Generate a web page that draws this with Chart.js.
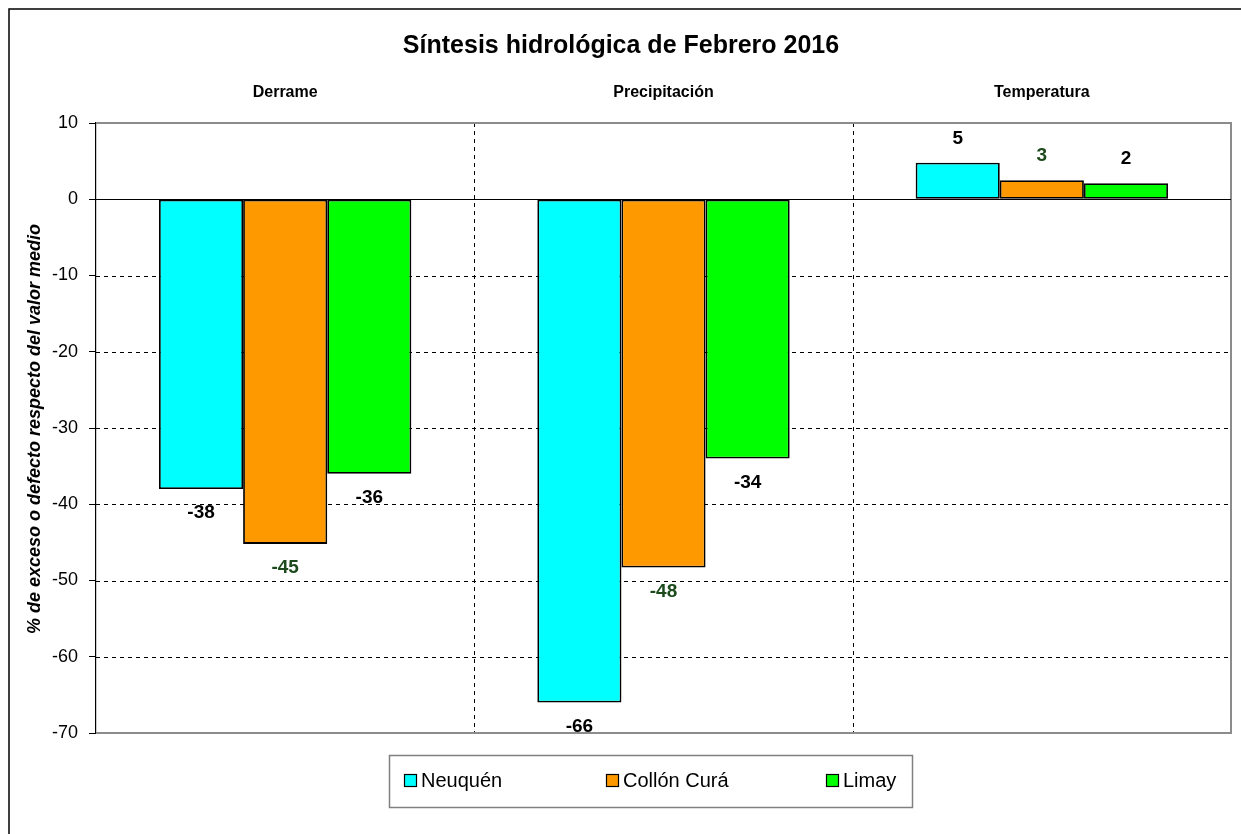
<!DOCTYPE html>
<html>
<head>
<meta charset="utf-8">
<script src="https://cdn.jsdelivr.net/npm/chart.js@4/dist/chart.umd.min.js"></script>
<style>
  html, body { margin: 0; padding: 0; background: #fff; }
  #wrap { width: 1241px; height: 834px; }
</style>
</head>
<body>
<div id="wrap"><canvas id="hydroChart" width="1241" height="834"></canvas></div>
<script>
// Data
var categories = ["Derrame", "Precipitación", "Temperatura"];
var seriesNames = ["Neuquén", "Collón Curá", "Limay"];
var neuquen = [-38, -66, 4.8];
var collonCura = [-45.2, -48.3, 2.5];
var limay = [-36, -34, 2.1];
var yTicks = [10, 0, -10, -20, -30, -40, -50, -60, -70];

var seriesColors = ["#00FFFF", "#FF9900", "#00FF00"];
var labelColors = ["#000000", "#1C4A1C", "#000000"];

var titleText = "Síntesis hidrológica de Febrero 2016";
var yTitleText = "% de exceso o defecto respecto del valor medio";

// Draws the frame, dashed grid, value labels, title and boxed legend
var decorPlugin = {
    id: 'decor',
    beforeDraw: function (chart) {
        var c = chart.ctx;
        c.save();
        c.fillStyle = '#fff';
        c.fillRect(0, 0, chart.width, chart.height);
        c.strokeStyle = '#000';
        c.lineWidth = 1.5;
        c.beginPath();
        c.moveTo(9, chart.height);
        c.lineTo(9, 9);
        c.lineTo(chart.width, 9);
        c.stroke();
        c.restore();
    },
    beforeDatasetsDraw: function (chart) {
        var c = chart.ctx, a = chart.chartArea;
        var x = chart.scales.x, y = chart.scales.y;
        c.save();
        c.strokeStyle = '#000';
        c.lineWidth = 1;
        c.setLineDash([4, 4]);
        yTicks.forEach(function (v) {
            if (v === 0 || v === yTicks[0] || v === yTicks[yTicks.length - 1]) return;
            var py = Math.round(y.getPixelForValue(v)) + 0.5;
            c.beginPath();
            c.moveTo(a.left, py);
            c.lineTo(a.right, py);
            c.stroke();
        });
        for (var i = 0; i < categories.length - 1; i++) {
            var px = Math.round((x.getPixelForValue(i) + x.getPixelForValue(i + 1)) / 2) + 0.5;
            c.beginPath();
            c.moveTo(px, a.top);
            c.lineTo(px, a.bottom);
            c.stroke();
        }
        c.setLineDash([]);
        c.strokeStyle = '#8C8C8C';
        c.lineWidth = 2;
        c.beginPath();
        c.moveTo(a.left, a.top);
        c.lineTo(a.right, a.top);
        c.lineTo(a.right, a.bottom);
        c.lineTo(a.left, a.bottom);
        c.stroke();
        c.restore();
    },
    afterDatasetsDraw: function (chart) {
        var c = chart.ctx, a = chart.chartArea;
        var y = chart.scales.y;
        c.save();
        var zy = Math.round(y.getPixelForValue(0)) + 0.5;
        c.strokeStyle = '#000';
        c.lineWidth = 1.2;
        c.beginPath();
        c.moveTo(a.left, zy);
        c.lineTo(a.right, zy);
        c.stroke();

        c.font = 'bold 19px Arial, "Liberation Sans", sans-serif';
        c.textAlign = 'center';
        c.textBaseline = 'middle';
        chart.data.datasets.forEach(function (ds, di) {
            var meta = chart.getDatasetMeta(di);
            meta.data.forEach(function (bar, i) {
                var v = ds.data[i];
                var ty = v < 0 ? bar.y + 24 : bar.y - 24;
                c.fillStyle = labelColors[di];
                c.fillText(String(Math.round(v)), bar.x, ty);
            });
        });
        c.restore();
    },
    afterDraw: function (chart) {
        var c = chart.ctx;
        c.save();
        // title
        c.fillStyle = '#000';
        c.font = 'bold 25px Arial, "Liberation Sans", sans-serif';
        c.textAlign = 'center';
        c.textBaseline = 'middle';
        c.fillText(titleText, 621, 46);

        // y axis title
        c.font = 'italic bold 18px Arial, "Liberation Sans", sans-serif';
        c.translate(35, 429);
        c.rotate(-Math.PI / 2);
        c.fillText(yTitleText, 0, 0);
        c.setTransform(1, 0, 0, 1, 0, 0);

        // legend box
        c.fillStyle = '#fff';
        c.fillRect(389.5, 755.5, 523, 52);
        c.strokeStyle = '#808080';
        c.lineWidth = 1.5;
        c.strokeRect(389.5, 755.5, 523, 52);
        var starts = [404, 606, 826];
        c.font = '20px Arial, "Liberation Sans", sans-serif';
        c.textAlign = 'left';
        chart.data.datasets.forEach(function (ds, di) {
            c.fillStyle = ds.backgroundColor;
            c.fillRect(starts[di], 774, 13, 13);
            c.strokeStyle = '#000';
            c.lineWidth = 1.2;
            c.strokeRect(starts[di] + 0.5, 774.5, 12, 12);
            c.fillStyle = '#000';
            c.fillText(ds.label, starts[di] + 17, 781);
        });
        c.restore();
    }
};

var datasets = [neuquen, collonCura, limay].map(function (vals, i) {
    return {
        label: seriesNames[i],
        data: vals,
        backgroundColor: seriesColors[i],
        borderColor: '#000',
        borderWidth: 1.8,
        borderSkipped: false,
        categoryPercentage: 0.667,
        barPercentage: 1.0
    };
});

var ctx = document.getElementById("hydroChart").getContext("2d");

var hydroChart = new Chart(ctx, {
    type: 'bar',
    data: { labels: categories, datasets: datasets },
    options: {
        responsive: false,
        animation: false,
        layout: { padding: { left: 0, right: 10, top: 0, bottom: 101 } },
        plugins: {
            legend: { display: false },
            title: { display: false },
            tooltip: { enabled: false }
        },
        scales: {
            x: {
                position: 'top',
                grid: { display: false, drawTicks: false },
                border: { display: false },
                ticks: {
                    color: '#000',
                    padding: 21,
                    font: { family: 'Arial, "Liberation Sans", sans-serif', size: 16, weight: 'bold' }
                },
                afterFit: function (s) { s.height = 123; }
            },
            y: {
                min: yTicks[yTicks.length - 1],
                max: yTicks[0],
                ticks: {
                    stepSize: 10,
                    color: '#000',
                    padding: 11,
                    font: { family: 'Arial, "Liberation Sans", sans-serif', size: 18 }
                },
                grid: { drawOnChartArea: false, color: '#000', tickLength: 7 },
                border: { color: '#000', width: 1.2 },
                afterFit: function (s) { s.width = 96; }
            }
        }
    },
    plugins: [decorPlugin]
});
</script>
</body>
</html>
